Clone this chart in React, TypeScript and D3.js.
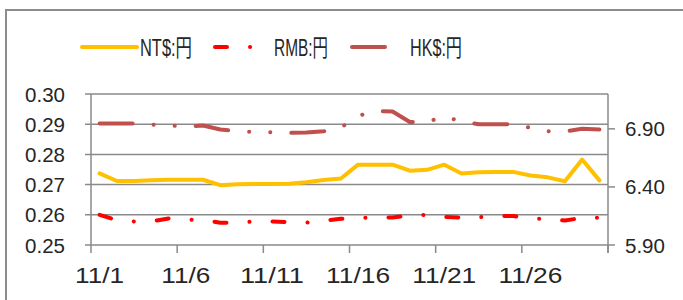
import React, { useEffect, useRef } from 'react';
import * as d3 from 'd3';

// daily exchange rates, November
const dates = [
  '11/1', '11/2', '11/3', '11/4', '11/5', '11/6', '11/7', '11/8', '11/9', '11/10',
  '11/11', '11/12', '11/13', '11/14', '11/15', '11/16', '11/17', '11/18', '11/19', '11/20',
  '11/21', '11/22', '11/23', '11/24', '11/25', '11/26', '11/27', '11/28', '11/29', '11/30',
];
const shownDates = ['11/1', '11/6', '11/11', '11/16', '11/21', '11/26'];

const ntdYen = [
  0.2737, 0.2712, 0.2712, 0.2714, 0.2716, 0.2716, 0.2716, 0.2698, 0.2701, 0.2702,
  0.2702, 0.2703, 0.2708, 0.2715, 0.272, 0.2766, 0.2766, 0.2766, 0.2746, 0.2749,
  0.2766, 0.2737, 0.2741, 0.2742, 0.2742, 0.273, 0.2724, 0.2711, 0.2783, 0.2714,
];
const rmbYen = [
  0.26, 0.2582, 0.2578, 0.2578, 0.2588, 0.2585, 0.2582, 0.2574, 0.2574, 0.2578,
  0.2578, 0.2576, 0.2574, 0.258, 0.2587, 0.259, 0.2591, 0.2591, 0.2598, 0.26,
  0.2593, 0.2591, 0.2592, 0.2596, 0.2596, 0.2587, 0.2587, 0.2581, 0.259, 0.259,
];
const hkdYen = [
  6.946, 6.946, 6.946, 6.937, 6.929, 6.92, 6.929, 6.894, 6.879, 6.874,
  6.871, 6.865, 6.868, 6.879, 6.911, 7.011, 7.054, 7.05, 6.959, 6.959,
  7.006, 6.963, 6.94, 6.94, 6.94, 6.909, 6.879, 6.877, 6.9, 6.894,
];

const leftTicks = [0.25, 0.26, 0.27, 0.28, 0.29, 0.3];
const rightTicks = [5.9, 6.4, 6.9];

const seriesList = [
  { name: 'NT$:円', values: ntdYen, color: '#FFC000', dash: null, axis: 'left' },
  { name: 'RMB:円', values: rmbYen, color: '#FF0000', dash: '12,23,0.1,23', axis: 'left' },
  { name: 'HK$:円', values: hkdYen, color: '#C0504D', dash: '33,21,0.1,21,0.1,21', axis: 'right' },
];

export default function App() {
  const svgRef = useRef<SVGSVGElement | null>(null);

  useEffect(() => {
    if (!svgRef.current) return;
    const svg = d3.select(svgRef.current);
    svg.selectAll('*').remove();

    const W = 683;
    const H = 300;
    const plot = { left: 91, right: 608, top: 94, bottom: 245 };
    const font = '"Liberation Sans", Arial, "Noto Sans CJK JP", sans-serif';
    const gridColor = '#8a8a8a';
    const textColor = '#262626';

    // frame
    svg.append('rect').attr('width', W).attr('height', H).attr('fill', '#fff');
    svg.append('rect')
      .attr('x', 6).attr('y', 10).attr('width', W + 20).attr('height', H + 20)
      .attr('fill', '#fff').attr('stroke', '#8c8c8c').attr('stroke-width', 2);

    const x = d3.scaleBand().domain(dates).range([plot.left, plot.right]).padding(0);
    const cx = (d: string) => (x(d) as number) + x.bandwidth() / 2;
    const yL = d3.scaleLinear().domain([0.25, 0.3]).range([plot.bottom, plot.top]);
    const yR = d3.scaleLinear().domain([5.9, 7.2]).range([plot.bottom, plot.top]);

    // gridlines + left ticks
    const g = svg.append('g');
    g.selectAll('line.grid')
      .data(leftTicks)
      .join('line')
      .attr('x1', plot.left - 6).attr('x2', plot.right)
      .attr('y1', (d) => yL(d)).attr('y2', (d) => yL(d))
      .attr('stroke', gridColor).attr('stroke-width', 1.5);

    // axis lines
    g.append('line').attr('x1', plot.left).attr('x2', plot.left)
      .attr('y1', plot.top).attr('y2', plot.bottom + 8)
      .attr('stroke', gridColor).attr('stroke-width', 1.5);
    g.append('line').attr('x1', plot.right).attr('x2', plot.right)
      .attr('y1', plot.top).attr('y2', plot.bottom + 8)
      .attr('stroke', gridColor).attr('stroke-width', 1.5);

    // x ticks every 5 categories, on category boundaries
    g.selectAll('line.xt')
      .data(shownDates.slice(1).concat(['end']))
      .join('line')
      .attr('x1', (d) => (d === 'end' ? plot.right : (x(d) as number)))
      .attr('x2', (d) => (d === 'end' ? plot.right : (x(d) as number)))
      .attr('y1', plot.bottom).attr('y2', plot.bottom + 8)
      .attr('stroke', gridColor).attr('stroke-width', 1.5);

    // right ticks
    g.selectAll('line.rt')
      .data(rightTicks)
      .join('line')
      .attr('x1', plot.right).attr('x2', plot.right + 7)
      .attr('y1', (d) => yR(d)).attr('y2', (d) => yR(d))
      .attr('stroke', gridColor).attr('stroke-width', 1.5);

    // left labels
    g.selectAll('text.yl')
      .data(leftTicks)
      .join('text')
      .attr('x', 65).attr('y', (d) => yL(d))
      .attr('text-anchor', 'end').attr('dominant-baseline', 'central')
      .attr('font-family', font).attr('font-size', 20.5).attr('fill', textColor)
      .text((d) => d.toFixed(2));

    // right labels
    g.selectAll('text.yr')
      .data(rightTicks)
      .join('text')
      .attr('x', 625).attr('y', (d) => yR(d))
      .attr('dominant-baseline', 'central')
      .attr('font-family', font).attr('font-size', 20.5).attr('fill', textColor)
      .text((d) => d.toFixed(2));

    // x labels
    g.selectAll('text.xl')
      .data(shownDates)
      .join('text')
      .attr('x', (d) => cx(d)).attr('y', 275)
      .attr('text-anchor', 'middle').attr('dominant-baseline', 'central')
      .attr('font-family', font).attr('font-size', 22).attr('fill', textColor)
      .attr('textLength', (d) => (d.length > 4 ? 64 : 49))
      .attr('lengthAdjust', 'spacingAndGlyphs')
      .text((d) => d);

    // series
    seriesList.forEach((s) => {
      const yScale = s.axis === 'left' ? yL : yR;
      const line = d3.line<number>()
        .x((_, i) => cx(dates[i]))
        .y((v) => yScale(v));
      svg.append('path')
        .datum(s.values)
        .attr('d', line)
        .attr('fill', 'none')
        .attr('stroke', s.color)
        .attr('stroke-width', 4)
        .attr('stroke-linecap', 'round')
        .attr('stroke-linejoin', 'round')
        .attr('stroke-dasharray', s.dash);
    });

    // legend
    const legendX = [82, 215, 352];
    const legendText = [140, 274, 410];
    const legendLen = [55, 53, 48];
    const ly = 47;
    seriesList.forEach((s, i) => {
      svg.append('line')
        .attr('x1', legendX[i]).attr('x2', legendX[i] + legendLen[i])
        .attr('y1', ly).attr('y2', ly)
        .attr('stroke', s.color).attr('stroke-width', 4)
        .attr('stroke-linecap', 'round')
        .attr('stroke-dasharray', s.dash);
      svg.append('text')
        .attr('x', legendText[i]).attr('y', ly)
        .attr('dominant-baseline', 'central')
        .attr('font-family', font).attr('font-size', 24).attr('fill', textColor)
        .attr('textLength', i === 1 ? 54 : 52)
        .attr('lengthAdjust', 'spacingAndGlyphs')
        .text(s.name);
    });
  }, []);

  return (
    <svg
      ref={svgRef}
      width={683}
      height={300}
      style={{ position: 'absolute', left: 0, top: 0, display: 'block' }}
    />
  );
}
